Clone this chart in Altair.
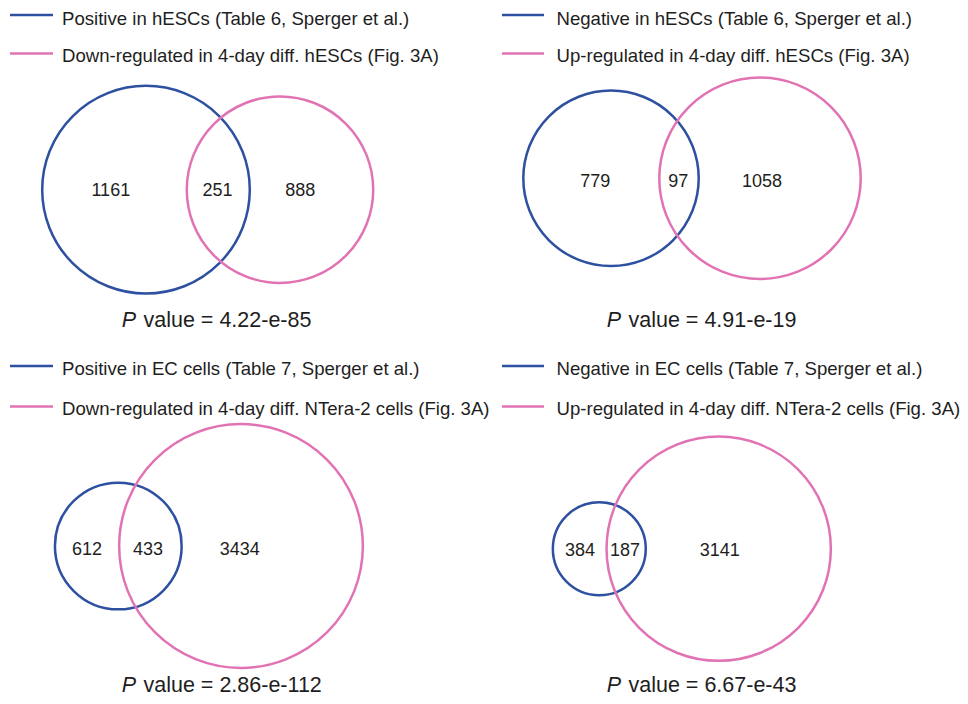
import altair as alt
import pandas as pd
import numpy as np

# ---------------- data ----------------
only_a = [1161, 779, 612, 384]
both = [251, 97, 433, 187]
only_b = [888, 1058, 3434, 3141]
set_a_names = [
    "Positive in hESCs (Table 6, Sperger et al.)",
    "Negative in hESCs (Table 6, Sperger et al.)",
    "Positive in EC cells (Table 7, Sperger et al.)",
    "Negative in EC cells (Table 7, Sperger et al.)",
]
set_b_names = [
    "Down-regulated in 4-day diff. hESCs (Fig. 3A)",
    "Up-regulated in 4-day diff. hESCs (Fig. 3A)",
    "Down-regulated in 4-day diff. NTera-2 cells (Fig. 3A)",
    "Up-regulated in 4-day diff. NTera-2 cells (Fig. 3A)",
]
p_values = ["4.22-e-85", "4.91-e-19", "2.86-e-112", "6.67-e-43"]

# ---------------- layout (page pixel units) ----------------
area_per_gene = [7.63, 8.78, 3.84, 3.78]   # px^2 per gene, per panel
center_a_x = [146, 611, 118.3, 599.3]
center_b_x = [280, 760, 241, 718.7]
center_y = [189.7, 178.3, 546.0, 548.7]
label_x_a = [110.8, 595.3, 87, 580]
label_x_ab = [217.5, 678.3, 148, 625]
label_x_b = [300.3, 762, 239.7, 719.7]
label_base_y = [196, 186.7, 555, 555.7]
legend_line_x0 = [10, 502, 10, 502]
legend_line_x1 = [53, 544, 53, 544]
legend_text_x = [62, 556.5, 62, 556.5]
legend_y_a = [15.0, 15.0, 366, 366]
legend_text_y_a = [25.0, 25.0, 374.5, 374.5]
legend_y_b = [53.5, 53.5, 406.5, 406.5]
legend_text_y_b = [62.0, 62.0, 415.0, 415.0]
pval_x = [121.7, 606.7, 121.7, 606.7]
pval_base_y = [326.7, 327.3, 691.5, 691.5]

BLUE = "#2D50A0"
PINK = "#E173B4"
TEXT = "#1e1e1e"
FONT = "Liberation Sans, Arial, Helvetica, sans-serif"

circ_rows, num_rows, leg_rows, p_rows = [], [], [], []
for i in range(4):
    tot_a = only_a[i] + both[i]
    tot_b = only_b[i] + both[i]
    r_a = np.sqrt(area_per_gene[i] * tot_a)
    r_b = np.sqrt(area_per_gene[i] * tot_b)
    circ_rows.append(dict(x=center_a_x[i], y=center_y[i], size=4 * r_a**2, set="A"))
    circ_rows.append(dict(x=center_b_x[i], y=center_y[i], size=4 * r_b**2, set="B"))
    num_rows.append(dict(x=label_x_a[i], y=label_base_y[i], label=str(only_a[i])))
    num_rows.append(dict(x=label_x_ab[i], y=label_base_y[i], label=str(both[i])))
    num_rows.append(dict(x=label_x_b[i], y=label_base_y[i], label=str(only_b[i])))
    leg_rows.append(dict(x0=legend_line_x0[i], x1=legend_line_x1[i], tx=legend_text_x[i],
                         y=legend_y_a[i], ty=legend_text_y_a[i], label=set_a_names[i], set="A"))
    leg_rows.append(dict(x0=legend_line_x0[i], x1=legend_line_x1[i], tx=legend_text_x[i],
                         y=legend_y_b[i], ty=legend_text_y_b[i], label=set_b_names[i], set="B"))
    p_rows.append(dict(x=pval_x[i], x2=pval_x[i] + 21.8, y=pval_base_y[i],
                       rest="value = " + p_values[i]))

circ_df = pd.DataFrame(circ_rows)
num_df = pd.DataFrame(num_rows)
leg_df = pd.DataFrame(leg_rows)
p_df = pd.DataFrame(p_rows)

# plot area spans page pixels 8..960 horizontally and 8..696 vertically
xs = alt.Scale(domain=[8, 960], zero=False, nice=False)
ys = alt.Scale(domain=[8, 696], zero=False, nice=False, reverse=True)
col = alt.Color("set:N", scale=alt.Scale(domain=["A", "B"], range=[BLUE, PINK]), legend=None)

circles = alt.Chart(circ_df).mark_point(
    shape="circle", filled=False, strokeWidth=2.5, opacity=1
).encode(
    x=alt.X("x:Q", scale=xs, axis=None),
    y=alt.Y("y:Q", scale=ys, axis=None),
    size=alt.Size("size:Q", scale=None),
    color=col,
)

rules = alt.Chart(leg_df).mark_rule(strokeWidth=2.5).encode(
    x=alt.X("x0:Q", scale=xs, axis=None),
    x2="x1:Q",
    y=alt.Y("y:Q", scale=ys, axis=None),
    color=col,
)

leg_text = alt.Chart(leg_df).mark_text(
    align="left", baseline="alphabetic", font=FONT, fontSize=18.6, color=TEXT
).encode(
    x=alt.X("tx:Q", scale=xs, axis=None),
    y=alt.Y("ty:Q", scale=ys, axis=None),
    text="label:N",
)

numbers = alt.Chart(num_df).mark_text(
    align="center", baseline="alphabetic", font=FONT, fontSize=18, color=TEXT
).encode(
    x=alt.X("x:Q", scale=xs, axis=None),
    y=alt.Y("y:Q", scale=ys, axis=None),
    text="label:N",
)

p_ital = alt.Chart(p_df).mark_text(
    align="left", baseline="alphabetic", font=FONT, fontSize=21.5, fontStyle="italic", color=TEXT
).encode(
    x=alt.X("x:Q", scale=xs, axis=None),
    y=alt.Y("y:Q", scale=ys, axis=None),
    text=alt.value("P"),
)

p_rest = alt.Chart(p_df).mark_text(
    align="left", baseline="alphabetic", font=FONT, fontSize=21.5, color=TEXT
).encode(
    x=alt.X("x2:Q", scale=xs, axis=None),
    y=alt.Y("y:Q", scale=ys, axis=None),
    text="rest:N",
)

chart = alt.layer(circles, rules, leg_text, numbers, p_ital, p_rest).properties(
    width=952, height=688, padding=0,
    autosize=alt.AutoSizeParams(type="none"),
    background="white",
).configure_view(stroke=None)

chart.save("out.html", embed_options={"renderer": "svg", "actions": False})
